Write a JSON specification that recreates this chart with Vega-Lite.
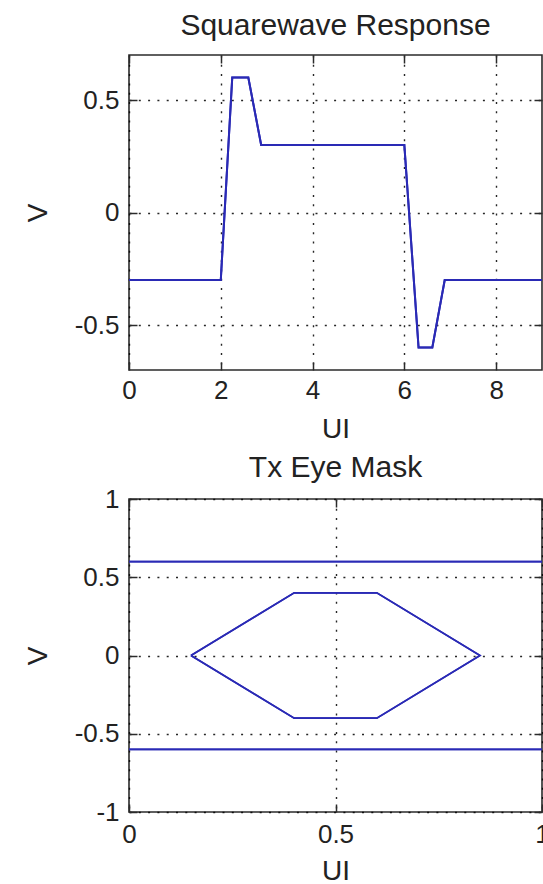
{
  "$schema": "https://vega.github.io/schema/vega-lite/v6.json",
  "background": "white",
  "padding": {"left": 23, "top": 10, "right": -7, "bottom": 0},
  "spacing": 129,
  "bounds": "flush",
  "config": {
    "font": "Liberation Sans",
    "view": {"stroke": "#2b2b2b", "strokeWidth": 1.6},
    "axis": {
      "labelFont": "Liberation Sans",
      "labelFontSize": 26,
      "labelColor": "#222222",
      "titleFont": "Liberation Sans",
      "titleFontSize": 28,
      "titleFontWeight": "normal",
      "titleColor": "#222222",
      "domain": false,
      "tickColor": "#2b2b2b",
      "tickWidth": 1.5,
      "tickSize": -8,
      "labelFlush": false,
      "gridColor": "#000000",
      "gridDash": [2, 7.3],
      "gridWidth": 1.4,
      "gridOpacity": 0.85
    },
    "title": {"font": "Liberation Sans", "fontSize": 30, "fontWeight": "normal", "color": "#222222"}
  },
  "vconcat": [
    {
      "width": 413,
      "height": 315,
      "title": {"text": "Squarewave Response", "baseline": "alphabetic", "offset": -11, "frame": "group"},
      "data": {"values": [
        {"ui": 0, "v": -0.3},
        {"ui": 2, "v": -0.3},
        {"ui": 2.25, "v": 0.6},
        {"ui": 2.6, "v": 0.6},
        {"ui": 2.88, "v": 0.3},
        {"ui": 6, "v": 0.3},
        {"ui": 6.31, "v": -0.6},
        {"ui": 6.61, "v": -0.6},
        {"ui": 6.88, "v": -0.3},
        {"ui": 9, "v": -0.3}
      ]},
      "layer": [
        {
          "mark": {"type": "line", "color": "#2a2ab5", "strokeWidth": 2},
          "encoding": {
            "x": {"field": "ui", "type": "quantitative", "scale": {"domain": [0, 9], "nice": false, "zero": false},
              "axis": {"orient": "bottom", "title": "UI", "values": [0, 2, 4, 6, 8], "grid": true, "labelFlush": false, "labelPadding": 15, "titleY": 59, "titleBaseline": "middle", "labelExpr": "'' + datum.value"}},
            "y": {"field": "v", "type": "quantitative", "scale": {"domain": [-0.7, 0.7], "nice": false, "zero": false},
              "axis": {"orient": "left", "title": "V", "values": [-0.5, 0, 0.5], "grid": true, "labelPadding": 18, "titleX": -91, "titleBaseline": "middle", "labelExpr": "'' + datum.value"}}
          }
        },
        {
          "mark": {"type": "line", "color": "#2a2ab5", "strokeWidth": 2},
          "encoding": {
            "x": {"field": "ui", "type": "quantitative", "scale": {"domain": [0, 9], "nice": false, "zero": false},
              "axis": {"orient": "top", "title": null, "values": [0, 2, 4, 6, 8], "grid": false, "labels": false}},
            "y": {"field": "v", "type": "quantitative", "scale": {"domain": [-0.7, 0.7], "nice": false, "zero": false},
              "axis": {"orient": "right", "title": null, "values": [-0.5, 0, 0.5], "grid": false, "labels": false}}
          }
        }
      ],
      "resolve": {"axis": {"x": "independent", "y": "independent"}}
    },
    {
      "width": 413,
      "height": 313,
      "title": {"text": "Tx Eye Mask", "baseline": "alphabetic", "offset": -21, "frame": "group"},
      "data": {"values": [
        {"series": "upper", "k": 1, "ui": 0, "v": 0.6},
        {"series": "upper", "k": 2, "ui": 1, "v": 0.6},
        {"series": "lower", "k": 1, "ui": 0, "v": -0.6},
        {"series": "lower", "k": 2, "ui": 1, "v": -0.6},
        {"series": "mask", "k": 1, "ui": 0.15, "v": 0},
        {"series": "mask", "k": 2, "ui": 0.4, "v": 0.4},
        {"series": "mask", "k": 3, "ui": 0.6, "v": 0.4},
        {"series": "mask", "k": 4, "ui": 0.85, "v": 0},
        {"series": "mask", "k": 5, "ui": 0.6, "v": -0.4},
        {"series": "mask", "k": 6, "ui": 0.4, "v": -0.4},
        {"series": "mask", "k": 7, "ui": 0.15, "v": 0}
      ]},
      "layer": [
        {
          "mark": {"type": "line", "color": "#2a2ab5", "strokeWidth": 1.6},
          "encoding": {
            "x": {"field": "ui", "type": "quantitative", "scale": {"domain": [0, 1], "nice": false, "zero": false},
              "axis": {"orient": "bottom", "title": "UI", "values": [0, 0.5, 1], "grid": true, "labelFlush": false, "labelPadding": 17, "titleY": 59, "titleBaseline": "middle", "labelExpr": "'' + datum.value"}},
            "y": {"field": "v", "type": "quantitative", "scale": {"domain": [-1, 1], "nice": false, "zero": false},
              "axis": {"orient": "left", "title": "V", "values": [-1, -0.5, 0, 0.5, 1], "grid": true, "labelPadding": 18, "titleX": -91, "titleBaseline": "middle", "labelExpr": "'' + datum.value"}},
            "detail": {"field": "series"},
            "order": {"field": "k", "type": "quantitative"}
          }
        },
        {
          "mark": {"type": "line", "color": "#2a2ab5", "strokeWidth": 1.6},
          "encoding": {
            "x": {"field": "ui", "type": "quantitative", "scale": {"domain": [0, 1], "nice": false, "zero": false},
              "axis": {"orient": "top", "title": null, "values": [0, 0.5, 1], "grid": false, "labels": false}},
            "y": {"field": "v", "type": "quantitative", "scale": {"domain": [-1, 1], "nice": false, "zero": false},
              "axis": {"orient": "right", "title": null, "values": [-1, -0.5, 0, 0.5, 1], "grid": false, "labels": false}},
            "detail": {"field": "series"},
            "order": {"field": "k", "type": "quantitative"}
          }
        }
      ],
      "resolve": {"axis": {"x": "independent", "y": "independent"}}
    }
  ]
}
